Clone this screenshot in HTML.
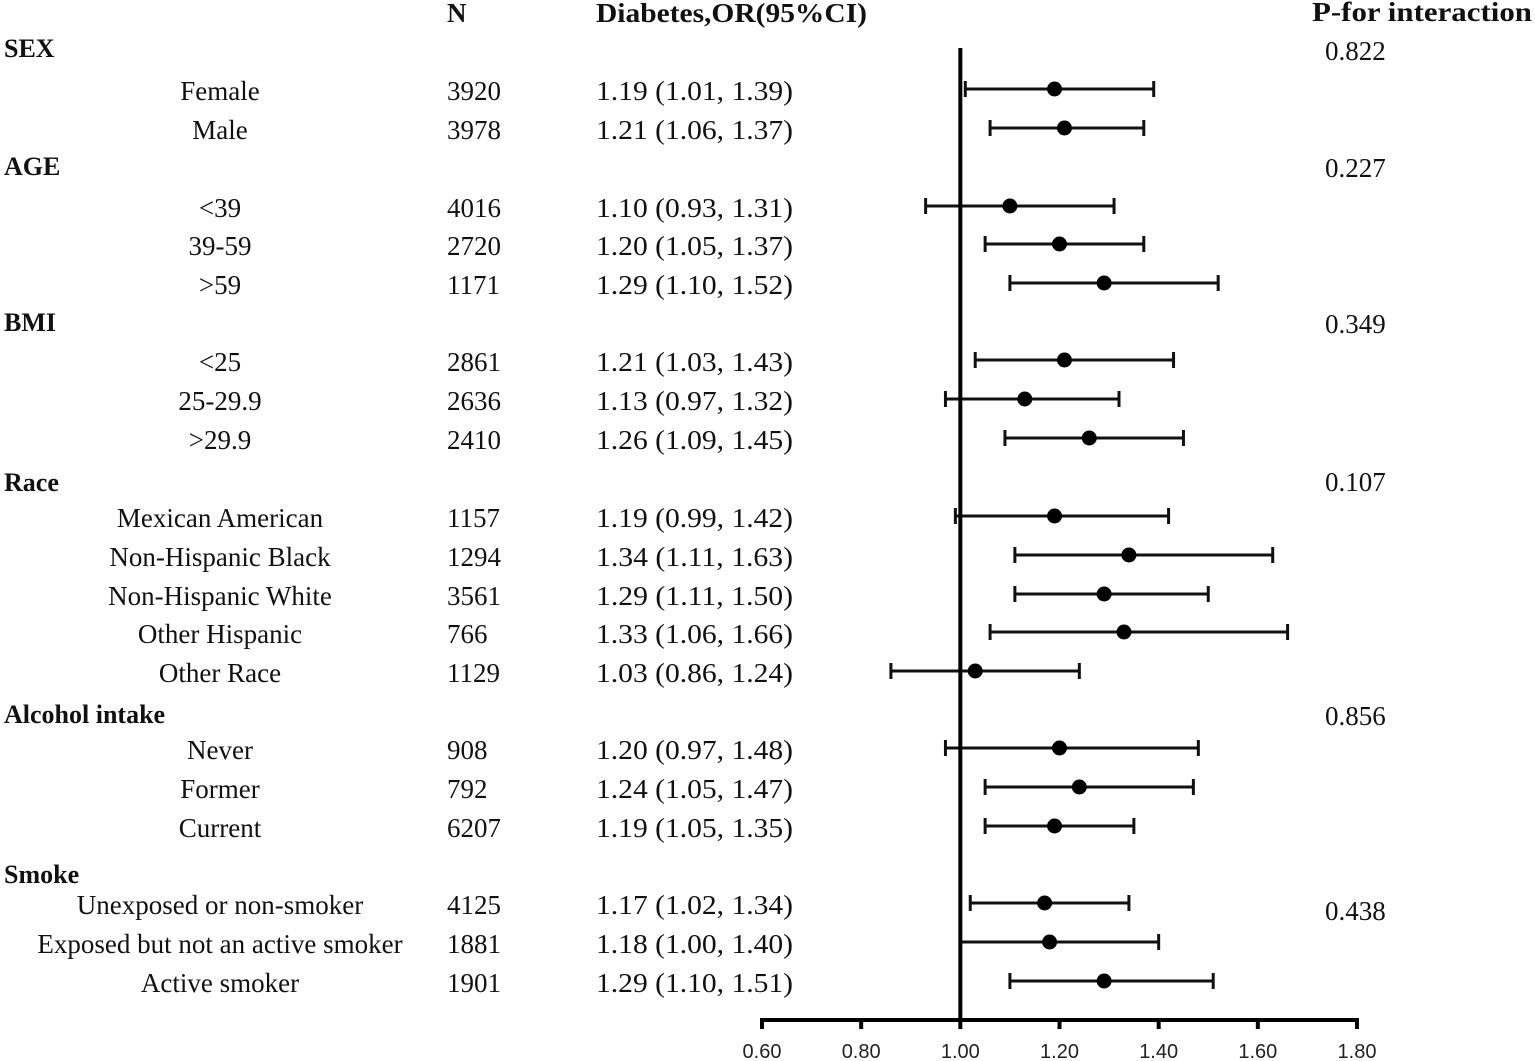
<!DOCTYPE html>
<html><head><meta charset="utf-8"><style>
body{margin:0;background:#fff}
svg{display:block}
text{font-family:"Liberation Serif",serif;fill:#111}
.b{font-weight:bold}
.t{font-family:"Liberation Sans",sans-serif;font-size:20px;fill:#222}
</style></head><body>
<svg id="chart" width="1535" height="1061" xmlns="http://www.w3.org/2000/svg">
<g id="texts"></g>
<g id="plot"></g>
</svg>
<script>
const labels=["Female","Male","<39","39-59",">59","<25","25-29.9",">29.9","Mexican American","Non-Hispanic Black","Non-Hispanic White","Other Hispanic","Other Race","Never","Former","Current","Unexposed or non-smoker","Exposed but not an active smoker","Active smoker"];
const rowY=[89,128,206,244,283,360,399,438,516,555,594,632,671,748,787,826,903,942,981];
const nVals=["3920","3978","4016","2720","1171","2861","2636","2410","1157","1294","3561","766","1129","908","792","6207","4125","1881","1901"];
const orVals=[1.19,1.21,1.10,1.20,1.29,1.21,1.13,1.26,1.19,1.34,1.29,1.33,1.03,1.20,1.24,1.19,1.17,1.18,1.29];
const loVals=[1.01,1.06,0.93,1.05,1.10,1.03,0.97,1.09,0.99,1.11,1.11,1.06,0.86,0.97,1.05,1.05,1.02,1.00,1.10];
const hiVals=[1.39,1.37,1.31,1.37,1.52,1.43,1.32,1.45,1.42,1.63,1.50,1.66,1.24,1.48,1.47,1.35,1.34,1.40,1.51];
const groups=["SEX","AGE","BMI","Race","Alcohol intake","Smoke"];
const groupY=[48,166,322,482,714,874];
const pVals=["0.822","0.227","0.349","0.107","0.856","0.438"];
const pY=[51,168,324,482,716,911];
const ticks=[0.6,0.8,1.0,1.2,1.4,1.6,1.8];
const NS="http://www.w3.org/2000/svg";
const x=v=>762+(v-0.6)*(1357-762)/1.2;
function mk(tag,attrs,parent,txt){const e=document.createElementNS(NS,tag);for(const k in attrs)e.setAttribute(k,attrs[k]);if(txt!=null)e.textContent=txt;parent.appendChild(e);return e;}
const T=document.getElementById('texts'),P=document.getElementById('plot');
let e;
e=mk('text',{x:447,y:22,'font-size':27,class:'b'},T,'N');

e=mk('text',{x:596,y:22,'font-size':27,class:'b',textLength:271,lengthAdjust:'spacingAndGlyphs'},T,'Diabetes,OR(95%CI)');

e=mk('text',{x:1312,y:21,'font-size':27,class:'b',textLength:220,lengthAdjust:'spacingAndGlyphs'},T,'P-for interaction');

groups.forEach((g,i)=>{
 e=mk('text',{x:4,y:groupY[i]+9,'font-size':26,class:'b'},T,g);
 
 e=mk('text',{x:1325,y:pY[i]+9,'font-size':27},T,pVals[i]);
 
});
labels.forEach((l,i)=>{
 const y=rowY[i]+11;
 e=mk('text',{x:220,y:y,'font-size':27,'text-anchor':'middle'},T,l);
 
 e=mk('text',{x:447,y:y,'font-size':27},T,nVals[i]);
 
 e=mk('text',{x:596,y:y,'font-size':27,textLength:197,lengthAdjust:'spacingAndGlyphs'},T,orVals[i].toFixed(2)+' ('+loVals[i].toFixed(2)+', '+hiVals[i].toFixed(2)+')');
 
 const g=mk('g',{},P);
 
 const y0=rowY[i],a=x(loVals[i]),b=x(hiVals[i]);
 mk('line',{x1:a,x2:b,y1:y0,y2:y0,stroke:'#111','stroke-width':3},g);
 mk('line',{x1:a,x2:a,y1:y0-8,y2:y0+8,stroke:'#111','stroke-width':3},g);
 mk('line',{x1:b,x2:b,y1:y0-8,y2:y0+8,stroke:'#111','stroke-width':3},g);
 e=mk('circle',{cx:x(orVals[i]),cy:y0,r:7.5,fill:'#000'},g);
 
});
e=mk('line',{x1:x(1),x2:x(1),y1:48,y2:1020,stroke:'#000','stroke-width':4},P);

e=mk('line',{x1:x(0.6)-2,x2:x(1.8)+2,y1:1020,y2:1020,stroke:'#000','stroke-width':4},P);

ticks.forEach(t=>{
 e=mk('line',{x1:x(t),x2:x(t),y1:1020,y2:1029,stroke:'#000','stroke-width':4},P);
 
 e=mk('text',{x:x(t),y:1058,'text-anchor':'middle',class:'t'},P,t.toFixed(2));
 
});
</script>
</body></html>
